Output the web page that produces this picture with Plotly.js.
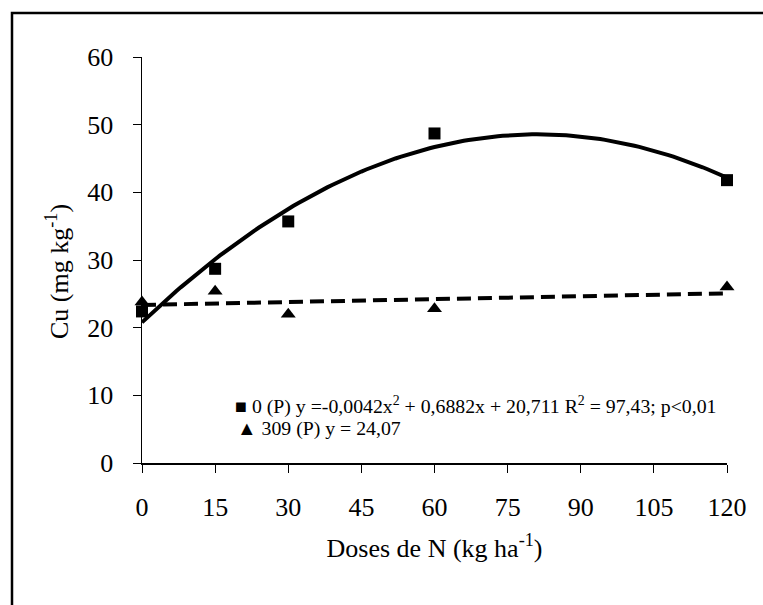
<!DOCTYPE html>
<html>
<head>
<meta charset="utf-8">
<script src="https://cdn.plot.ly/plotly-3.0.1.min.js"></script>
<style>html,body{margin:0;padding:0;background:#fff;}#chart{width:763px;height:605px;}</style>
</head>
<body>
<div id="chart"></div>
<script>
// Data
const doses = [0, 15, 30, 60, 120];
const cu0P = [22.4, 28.7, 35.7, 48.7, 41.8];      // squares: 0 (P)
const cu309P = [23.8, 25.4, 22.0, 22.8, 26.0];    // triangles: 309 (P)
const xTicks = [0, 15, 30, 45, 60, 75, 90, 105, 120];
const yTicks = [0, 10, 20, 30, 40, 50, 60];
const legendLine1 = "■ 0 (P) y =-0,0042x<sup>2</sup> + 0,6882x + 20,711 R<sup>2</sup> = 97,43; p<0,01";
const legendLine2 = "▲ 309 (P) y = 24,07";
const xTitle = 'Doses de N (kg ha<sup>-1</sup>)';
const yTitle = 'Cu (mg kg<sup>-1</sup>)';

// least-squares polynomial fit (trend lines, as in the original spreadsheet chart)
function polyfit(xs, ys, deg) {
  const m = deg + 1;
  const A = [], b = [];
  for (let r = 0; r < m; r++) {
    A.push([]);
    for (let c = 0; c < m; c++) A[r].push(xs.reduce((s, x) => s + Math.pow(x, r + c), 0));
    b.push(xs.reduce((s, x, i) => s + ys[i] * Math.pow(x, r), 0));
  }
  for (let i = 0; i < m; i++) {
    let p = i;
    for (let k = i + 1; k < m; k++) if (Math.abs(A[k][i]) > Math.abs(A[p][i])) p = k;
    [A[i], A[p]] = [A[p], A[i]]; [b[i], b[p]] = [b[p], b[i]];
    for (let k = i + 1; k < m; k++) {
      const f = A[k][i] / A[i][i];
      for (let c = i; c < m; c++) A[k][c] -= f * A[i][c];
      b[k] -= f * b[i];
    }
  }
  const coef = new Array(m).fill(0);
  for (let i = m - 1; i >= 0; i--) {
    let s = b[i];
    for (let c = i + 1; c < m; c++) s -= A[i][c] * coef[c];
    coef[i] = s / A[i][i];
  }
  return coef; // coef[k] multiplies x^k
}
const quad = polyfit(doses, cu0P, 2);
const lin = polyfit(doses, cu309P, 1);
const curveX = [], curveY = [], linY = [];
for (let x = 0; x <= 120; x += 1) {
  curveX.push(x);
  curveY.push(quad[0] + quad[1]*x + quad[2]*x*x);
  linY.push(lin[0] + lin[1]*x);
}

const FONT = "Liberation Serif, Times New Roman, serif";

const traces = [
  {x: curveX, y: curveY, mode: 'lines', line: {color: '#000', width: 4}, hoverinfo: 'skip', showlegend: false, cliponaxis: false},
  {x: curveX, y: linY, mode: 'lines', line: {color: '#000', width: 4, dash: '14px,7px'}, hoverinfo: 'skip', showlegend: false, cliponaxis: false},
  {x: doses, y: cu0P, mode: 'markers', marker: {symbol: 'square', size: 12, color: '#000'}, showlegend: false, cliponaxis: false},
  {x: doses, y: cu309P, mode: 'markers', marker: {symbol: 'triangle-up', size: 13, color: '#000'}, showlegend: false, cliponaxis: false}
];

const layout = {
  width: 763, height: 605,
  margin: {l: 142, r: 36, t: 57, b: 142},
  paper_bgcolor: '#fff', plot_bgcolor: '#fff',
  font: {family: FONT, color: '#000', size: 24},
  showlegend: false,
  xaxis: {
    range: [0, 120], tickvals: xTicks, ticktext: xTicks.map(String),
    showgrid: false, zeroline: false, showline: true, linecolor: '#000', linewidth: 1.5,
    ticks: 'outside', ticklen: 8, tickcolor: '#000', tickwidth: 1,
    tickfont: {family: FONT, size: 26}, ticklabelstandoff: 12,
    title: {text: xTitle, font: {family: FONT, size: 26}, standoff: 18}
  },
  yaxis: {
    range: [0, 60], tickvals: yTicks, ticktext: yTicks.map(String),
    showgrid: false, zeroline: false, showline: true, linecolor: '#000', linewidth: 1.5,
    ticks: 'outside', ticklen: 8, tickcolor: '#000', tickwidth: 1,
    tickfont: {family: FONT, size: 26}, ticklabelstandoff: 14
  },
  annotations: [
    {xref: 'paper', yref: 'paper', x: (57-142)/585, y: (463-272)/406, xanchor: 'center', yanchor: 'middle',
     text: yTitle, textangle: -90, showarrow: false, font: {family: FONT, size: 26}},
    {xref: 'paper', yref: 'paper', x: (233-142)/585, y: (463-405)/406, xanchor: 'left', yanchor: 'middle',
     text: legendLine1, showarrow: false, align: 'left', font: {family: FONT, size: 19.8}},
    {xref: 'paper', yref: 'paper', x: (235-142)/585, y: (463-428)/406, xanchor: 'left', yanchor: 'middle',
     text: legendLine2, showarrow: false, align: 'left', font: {family: FONT, size: 19.8}}
  ],
  shapes: [
    {type: 'rect', xref: 'paper', yref: 'paper',
     x0: (12-142)/585, x1: (800-142)/585, y0: (463-650)/406, y1: (463-13)/406,
     line: {color: '#000', width: 2.5}, fillcolor: 'rgba(0,0,0,0)', layer: 'below'}
  ]
};

Plotly.newPlot('chart', traces, layout, {displayModeBar: false, staticPlot: true});
</script>
</body>
</html>
